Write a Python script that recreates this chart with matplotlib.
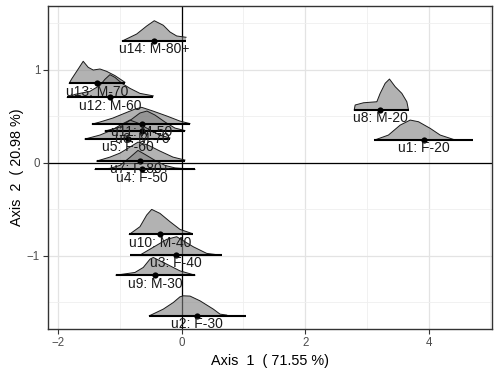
import matplotlib
matplotlib.use("Agg")
import matplotlib.pyplot as plt
from matplotlib.ticker import MultipleLocator

plt.rcParams['font.family'] = ['Liberation Sans', 'DejaVu Sans']

# ---- data ----
units = ["u1: F-20", "u2: F-30", "u3: F-40", "u4: F-50", "u5: F-60", "u6: M-70",
         "u7: F-80+", "u8: M-20", "u9: M-30", "u10: M-40", "u11: M-50", "u12: M-60",
         "u13: M-70", "u14: M-80+"]
x_coord = [3.92, 0.253, -0.097, -0.648, -0.865, -0.643, -0.676, 3.214, -0.433, -0.352,
           -0.648, -1.162, -1.368, -0.444]
y_coord = [0.244, -1.645, -0.992, -0.071, 0.255, 0.341, 0.018, 0.567, -1.208, -0.770,
           0.416, 0.703, 0.854, 1.309]

# baseline extents of each ridge
line_min = [3.122, -0.525, -0.838, -1.405, -1.567, -1.243, -1.378, 2.793, -1.065, -0.849,
            -1.449, -1.854, -1.822, -0.963]
line_max = [4.716, 1.037, 0.648, 0.215, -0.190, 0.053, 0.053, 3.673, 0.215, 0.178,
            0.134, -0.460, -0.919, 0.070]

# ridge profiles (x positions and heights, in axis units)
ridge_x = [
    [3.122, 3.348, 3.538, 3.700, 3.835, 4.024, 4.186, 4.402],
    [-0.525, -0.298, -0.136, -0.028, 0.026, 0.135, 0.297, 0.512, 0.621, 0.729],
    [-0.676, -0.352, -0.243, -0.081, 0.188, 0.405, 0.621],
    [-1.405, -1.162, -1.0, -0.838, -0.708, -0.595, -0.433, -0.271, -0.109, 0.215],
    [-1.567, -1.324, -1.129, -0.967, -0.838, -0.708, -0.514, -0.352, -0.190],
    [-1.243, -1.0, -0.806, -0.676, -0.562, -0.433, -0.271, -0.109, 0.053],
    [-1.378, -1.162, -1.0, -0.838, -0.708, -0.546, -0.352, -0.141, 0.053],
    [2.793, 2.809, 2.944, 3.160, 3.214, 3.295, 3.365, 3.457, 3.565, 3.646, 3.673],
    [-1.065, -0.757, -0.622, -0.514, -0.460, -0.298, -0.028, 0.215],
    [-0.849, -0.676, -0.567, -0.486, -0.352, -0.190, -0.028, 0.162],
    [-1.449, -1.324, -1.113, -0.918, -0.757, -0.648, -0.465, -0.238, -0.028, 0.134],
    [-1.854, -1.729, -1.486, -1.324, -1.243, -1.162, -1.081, -0.968, -0.838, -0.676, -0.460],
    [-1.822, -1.783, -1.676, -1.595, -1.514, -1.433, -1.324, -1.216, -1.081, -0.919],
    [-0.963, -0.729, -0.567, -0.444, -0.298, -0.190, -0.081, 0.070],
]
ridge_h = [
    [0, 0.054, 0.161, 0.215, 0.197, 0.126, 0.054, 0.007],
    [0, 0.072, 0.143, 0.204, 0.215, 0.212, 0.161, 0.072, 0.018, 0.008],
    [0, 0.126, 0.169, 0.197, 0.089, 0.018, 0],
    [0, 0.011, 0.043, 0.129, 0.204, 0.161, 0.097, 0.043, 0.016, 0],
    [0, 0.043, 0.097, 0.161, 0.204, 0.172, 0.097, 0.043, 0.011],
    [0, 0.043, 0.129, 0.194, 0.215, 0.172, 0.097, 0.032, 0.005],
    [0, 0.043, 0.086, 0.151, 0.204, 0.172, 0.108, 0.043, 0.011],
    [0, 0.054, 0.078, 0.089, 0.179, 0.287, 0.333, 0.251, 0.179, 0.089, 0],
    [0, 0.029, 0.083, 0.172, 0.190, 0.137, 0.046, 0],
    [0, 0.083, 0.208, 0.269, 0.226, 0.137, 0.054, 0.011],
    [0, 0.022, 0.065, 0.118, 0.161, 0.180, 0.140, 0.086, 0.032, 0.005],
    [0, 0.032, 0.065, 0.129, 0.194, 0.244, 0.215, 0.151, 0.097, 0.043, 0.016],
    [0, 0.046, 0.154, 0.237, 0.172, 0.143, 0.154, 0.129, 0.083, 0.011],
    [0, 0.075, 0.161, 0.218, 0.169, 0.097, 0.054, 0.040],
]

x_ticks = [-2, 0, 2, 4]
y_ticks = [-1, 0, 1]
x_title = "Axis  1  ( 71.55 %)"
y_title = "Axis  2  ( 20.98 %)"

# ---- figure ----
fig = plt.figure(figsize=(5.0, 3.76), dpi=100)
ax = fig.add_axes([0.0954, 0.1242, 0.8892, 0.8598])
ax.set_xlim(-2.17, 5.03)
ax.set_ylim(-1.79, 1.685)

ax.xaxis.set_major_locator(MultipleLocator(2))
ax.xaxis.set_minor_locator(MultipleLocator(1))
ax.yaxis.set_major_locator(MultipleLocator(1))
ax.yaxis.set_minor_locator(MultipleLocator(0.5))
ax.set_xticks(x_ticks)
ax.set_yticks(y_ticks)
ax.grid(which='major', color='#e3e3e3', lw=0.9, zorder=0)
ax.grid(which='minor', color='#efefef', lw=0.6, zorder=0)
ax.set_axisbelow(True)
ax.tick_params(which='major', length=3.5, width=0.8, color='#333333',
               labelsize=8.3, labelcolor='#4d4d4d', pad=2)
ax.tick_params(which='minor', length=0)
for s in ax.spines.values():
    s.set_color('#333333')
    s.set_linewidth(1.0)

ax.axhline(0, color='black', lw=0.9, zorder=1)
ax.axvline(0, color='black', lw=0.9, zorder=1)

for i in range(len(units)):
    xs = ridge_x[i]
    ys = [y_coord[i] + h for h in ridge_h[i]]
    base = [y_coord[i]] * len(xs)
    ax.fill_between(xs, base, ys, facecolor='#808080', alpha=0.6, lw=0, zorder=2)
    ax.plot(xs, ys, color='#1a1a1a', lw=0.7, zorder=3)
    ax.plot([line_min[i], line_max[i]], [y_coord[i], y_coord[i]], color='black',
            lw=1.5, solid_capstyle='butt', zorder=3)

ax.scatter(x_coord, y_coord, s=20, color='black', zorder=4, linewidths=0)

for i, lab in enumerate(units):
    ax.annotate(lab, (x_coord[i], y_coord[i]), xytext=(0, -1.0),
                textcoords='offset points', ha='center', va='top',
                fontsize=10, color='#1a1a1a', zorder=5)

ax.set_xlabel(x_title, fontsize=10.4, color='black', labelpad=4)
ax.set_ylabel(y_title, fontsize=10.4, color='black', labelpad=2)

fig.savefig("out.png", dpi=100)
